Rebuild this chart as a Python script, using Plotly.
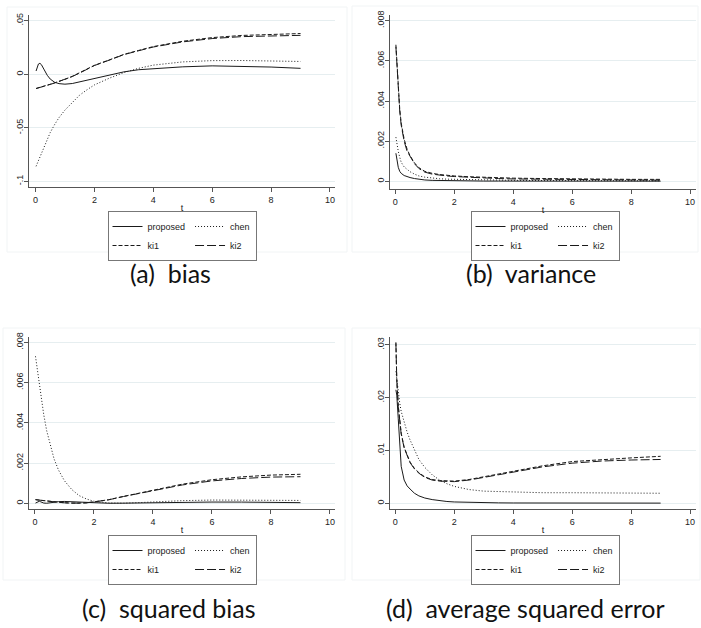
import plotly.graph_objects as go

W, H = 701, 628

# ---------------- data ----------------
T = [0.02, 0.05, 0.1, 0.15, 0.2, 0.3, 0.4, 0.5, 0.65, 0.8, 1.0, 1.25, 1.5, 1.75,
     2.0, 2.5, 3.0, 3.5, 4.0, 5.0, 6.0, 7.0, 8.0, 9.0]

series_names = ["proposed", "chen", "ki1", "ki2"]

# (a) bias
bias_proposed = [0.003, 0.006, 0.0095, 0.0102, 0.0090, 0.0040, -0.0010, -0.0045, -0.0075, -0.0088,
                 -0.0093, -0.0087, -0.0072, -0.0055, -0.0039, -0.0008, 0.0022, 0.0042, 0.0053,
                 0.0069, 0.0078, 0.0076, 0.0067, 0.0055]
bias_chen = [-0.086, -0.084, -0.080, -0.0765, -0.073, -0.0665, -0.060, -0.0545, -0.047, -0.0405,
             -0.0335, -0.026, -0.0195, -0.0145, -0.0100, -0.0038, 0.0015, 0.0055, 0.0085,
             0.0115, 0.0127, 0.0128, 0.0123, 0.0119]
bias_ki1 = [-0.0133, -0.0131, -0.0127, -0.0123, -0.0119, -0.0111, -0.0102, -0.0094, -0.0081, -0.0067,
            -0.0048, -0.0020, 0.0012, 0.0047, 0.0083, 0.0133, 0.0185, 0.0222, 0.0258,
            0.0308, 0.0342, 0.0362, 0.0374, 0.0380]
bias_ki2 = [-0.0134, -0.0132, -0.0128, -0.0124, -0.0120, -0.0112, -0.0103, -0.0095, -0.0082, -0.0068,
            -0.0049, -0.0021, 0.0011, 0.0046, 0.0081, 0.0131, 0.0183, 0.0219, 0.0254,
            0.0302, 0.0333, 0.0351, 0.0360, 0.0363]

# (b) variance
var_proposed = [0.0014, 0.0011, 0.0007, 0.0005, 0.0004, 0.00029, 0.00023, 0.00019, 0.00014, 0.00010,
                0.00007, 0.00005, 0.00004, 0.00003, 0.000025, 0.00002, 0.000015, 0.000015, 0.000012,
                0.00001, 0.00001, 0.00001, 0.00001, 0.00001]
var_chen = [0.0022, 0.0019, 0.0015, 0.0012, 0.00095, 0.00072, 0.00058, 0.00048, 0.00036, 0.00027,
            0.00021, 0.00016, 0.00013, 0.00011, 0.00010, 0.00008, 0.00007, 0.00006, 0.00005,
            0.00004, 0.000035, 0.00003, 0.00003, 0.00003]
var_ki1 = [0.0068, 0.0060, 0.0048, 0.0036, 0.0029, 0.0021, 0.0016, 0.00128, 0.00092, 0.00068,
           0.00050, 0.00040, 0.00034, 0.00030, 0.00027, 0.00023, 0.00020, 0.00018, 0.00016,
           0.00014, 0.00012, 0.00011, 0.00010, 0.00010]
var_ki2 = [0.0067, 0.0059, 0.0047, 0.0035, 0.0028, 0.0020, 0.0015, 0.00122, 0.00088, 0.00064,
           0.00046, 0.00036, 0.00030, 0.00027, 0.00024, 0.00020, 0.00016, 0.00014, 0.00012,
           0.00010, 0.00008, 0.00007, 0.00007, 0.00006]

# (c) squared bias
sqb_proposed = [0.00001, 0.00004, 0.00009, 0.00010, 0.00007, 0.00001, 0.0, 0.00002, 0.00006, 0.00008,
                0.00009, 0.000075, 0.00005, 0.00003, 0.000015, 0.0, 0.000005, 0.000018, 0.00003,
                0.000048, 0.00006, 0.000058, 0.000045, 0.00003]
sqb_chen = [0.0073, 0.0070, 0.0064, 0.0058, 0.0053, 0.0044, 0.0036, 0.0030, 0.0022, 0.00165,
            0.00112, 0.00068, 0.00038, 0.00021, 0.00010, 0.000015, 0.000003, 0.00003, 0.00007,
            0.00013, 0.00016, 0.00016, 0.00015, 0.00014]
sqb_ki1 = [0.000177, 0.000172, 0.000161, 0.000151, 0.000142, 0.000123, 0.000104, 0.000088, 0.000066,
           0.000045, 0.000023, 0.000004, 0.0000015, 0.000022, 0.000069, 0.000177, 0.00034, 0.00049,
           0.00067, 0.00095, 0.00117, 0.00131, 0.00140, 0.00144]
sqb_ki2 = [0.000180, 0.000174, 0.000164, 0.000154, 0.000144, 0.000125, 0.000106, 0.000090, 0.000067,
           0.000046, 0.000024, 0.000004, 0.0000012, 0.000021, 0.000066, 0.000172, 0.000335, 0.00048,
           0.00065, 0.00091, 0.00111, 0.00123, 0.00130, 0.00132]

# (d) average squared error
ase_proposed = [0.0215, 0.0205, 0.0160, 0.0105, 0.0070, 0.0044, 0.0033, 0.0027, 0.0019, 0.0014,
                0.0010, 0.0007, 0.00048, 0.00034, 0.00025, 0.00016, 0.00011, 0.00008, 0.00006,
                0.00005, 0.00004, 0.00004, 0.00003, 0.00003]
ase_chen = [0.0250, 0.0235, 0.0210, 0.0190, 0.0174, 0.0152, 0.0135, 0.0120, 0.0100, 0.0083,
            0.0068, 0.0054, 0.0044, 0.0037, 0.0032, 0.0026, 0.0023, 0.0022, 0.0021,
            0.0020, 0.0020, 0.0020, 0.0020, 0.0019]
ase_ki1 = [0.0305, 0.0235, 0.0185, 0.0155, 0.0133, 0.0106, 0.0090, 0.0078, 0.0066, 0.0058,
           0.0050, 0.0045, 0.0043, 0.0042, 0.0042, 0.0045, 0.0050, 0.0055, 0.0060,
           0.0071, 0.0079, 0.0083, 0.0086, 0.0089]
ase_ki2 = [0.0303, 0.0233, 0.0183, 0.0153, 0.0131, 0.0105, 0.0089, 0.0077, 0.0065, 0.0057,
           0.0049, 0.0044, 0.0042, 0.0041, 0.0041, 0.0044, 0.0049, 0.0054, 0.0059,
           0.0069, 0.0076, 0.0080, 0.0082, 0.0083]

x_tickvals = [0, 2, 4, 6, 8, 10]
x_ticktext = ["0", "2", "4", "6", "8", "10"]

yt_bias_vals = [-0.1, -0.05, 0, 0.05]
yt_bias_text = ["-.1", "-.05", "0", ".05"]
yt_small_vals = [0, 0.002, 0.004, 0.006, 0.008]
yt_small_text = ["0", ".002", ".004", ".006", ".008"]
yt_ase_vals = [0, 0.01, 0.02, 0.03]
yt_ase_text = ["0", ".01", ".02", ".03"]

captions = ["(a)  bias", "(b)  variance", "(c)  squared bias", "(d)  average squared error"]

# ---------------- layout helpers (pixel geometry) ----------------
def px_x(p):
    return p / W

def px_y(p):
    return 1 - p / H

panels = [
    dict(data=[bias_proposed, bias_chen, bias_ki1, bias_ki2], yv=yt_bias_vals, yt=yt_bias_text,
         xdom=(29, 335), ydom=(15, 187.3), xr=(-0.22, 10.17), yr=(-0.1056, 0.0553),
         leg=(182, 211), cap=(170, 273)),
    dict(data=[var_proposed, var_chen, var_ki1, var_ki2], yv=yt_small_vals, yt=yt_small_text,
         xdom=(390, 696), ydom=(15, 189), xr=(-0.18, 10.2), yr=(-0.00038, 0.00828),
         leg=(545, 211), cap=(531, 273)),
    dict(data=[sqb_proposed, sqb_chen, sqb_ki1, sqb_ki2], yv=yt_small_vals, yt=yt_small_text,
         xdom=(29, 335), ydom=(337, 509.3), xr=(-0.2, 10.17), yr=(-0.0003, 0.00826),
         leg=(182, 535), cap=(169, 608)),
    dict(data=[ase_proposed, ase_chen, ase_ki1, ase_ki2], yv=yt_ase_vals, yt=yt_ase_text,
         xdom=(390, 696), ydom=(337, 509.3), xr=(-0.18, 10.2), yr=(-0.00114, 0.0315),
         leg=(545, 535), cap=(525, 608)),
]

dashes = ["solid", "1px,2px", "4px,2px", "9px,3px"]
groups = ["c1", "c2", "c1", "c2"]
LINE = "#1a1a1a"
AXIS = "#555555"
GRID = "#e6eef0"
TICKFONT = dict(family="Liberation Sans, Arial, sans-serif", size=9, color="#222222")

fig = go.Figure()
layout = dict(width=W, height=H, margin=dict(l=0, r=0, t=0, b=0),
              paper_bgcolor="white", plot_bgcolor="white",
              font=dict(family="Liberation Sans, Arial, sans-serif", size=9, color="#222222"),
              annotations=[], shapes=[])

for i, p in enumerate(panels):
    n = i + 1
    xa = "x" if n == 1 else f"x{n}"
    ya = "y" if n == 1 else f"y{n}"
    lg = "legend" if n == 1 else f"legend{n}"
    for j, name in enumerate(series_names):
        fig.add_trace(go.Scatter(
            x=T, y=p["data"][j], mode="lines", name=name,
            line=dict(color=LINE, width=1, dash=dashes[j]),
            xaxis=xa, yaxis=ya, legend=lg, legendgroup=f"{groups[j]}_{n}",
            showlegend=True))
    xkey = "xaxis" if n == 1 else f"xaxis{n}"
    ykey = "yaxis" if n == 1 else f"yaxis{n}"
    layout[xkey] = dict(domain=[px_x(p["xdom"][0]), px_x(p["xdom"][1])], range=list(p["xr"]),
                        anchor=ya, showgrid=False, zeroline=False, showline=True,
                        linecolor=AXIS, linewidth=1, ticks="outside", ticklen=4, tickcolor=AXIS,
                        tickvals=x_tickvals, ticktext=x_ticktext, tickfont=TICKFONT,
                        title=dict(text="t", font=dict(size=9, color="#222222"), standoff=0),
                        automargin=False)
    layout[ykey] = dict(domain=[px_y(p["ydom"][1]), px_y(p["ydom"][0])], range=list(p["yr"]),
                        anchor=xa, showgrid=True, gridcolor=GRID, gridwidth=1, zeroline=False,
                        showline=True, linecolor=AXIS, linewidth=1, ticks="outside", ticklen=4,
                        tickcolor=AXIS, tickvals=p["yv"], ticktext=p["yt"], tickangle=-90,
                        ticklabelstandoff=-3,
                        tickfont=TICKFONT, automargin=False)
    layout[lg] = dict(x=px_x(p["leg"][0]), y=px_y(p["leg"][1]), xanchor="center", yanchor="top",
                      orientation="h", traceorder="grouped", bgcolor="white",
                      bordercolor="#777777", borderwidth=1, itemwidth=30, tracegroupgap=0,
                      font=dict(family="Liberation Sans, Arial, sans-serif", size=9, color="#222222"))
    layout["annotations"].append(dict(
        text=captions[i], xref="paper", yref="paper", x=px_x(p["cap"][0]), y=px_y(p["cap"][1]),
        xanchor="center", yanchor="middle", showarrow=False,
        font=dict(family="Lato, Noto Sans, sans-serif", size=25, color="#111111")))

# faint outer frames of the four exported graphs
for (x0, y0, x1, y1) in [(7, 7, 347, 252), (352, 6, 698, 252), (3, 328, 345, 580), (352, 328, 700, 580)]:
    layout["shapes"].append(dict(type="rect", xref="paper", yref="paper",
                                 x0=px_x(x0), x1=px_x(x1), y0=px_y(y1), y1=px_y(y0),
                                 line=dict(color="#f1f4f5", width=1), fillcolor="rgba(0,0,0,0)",
                                 layer="below"))

fig.update_layout(**layout)
fig.write_html("out.html")
